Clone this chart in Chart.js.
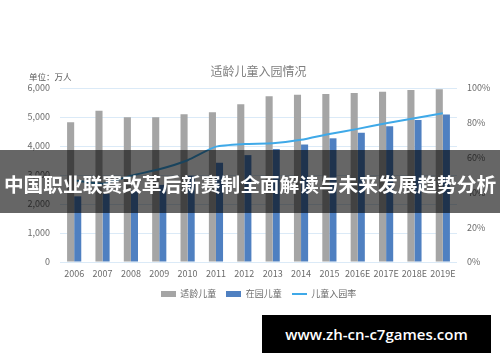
<!DOCTYPE html>
<html>
<head>
<meta charset="utf-8">
<script src="https://cdn.jsdelivr.net/npm/chart.js@4.4.0/dist/chart.umd.min.js"></script>
<style>
  html, body { margin: 0; padding: 0; background: #fff; }
  #wrap { position: relative; width: 500px; height: 362px; overflow: hidden; }
  #c { position: absolute; left: 0; top: 0; }
  #unit { position: absolute; left: 29px; top: 70px; font: 8.5px "Noto Sans CJK SC", sans-serif; color: #595959; white-space: nowrap; }
  #banner { position: absolute; left: 0; top: 150px; width: 500px; height: 63px; background: rgba(0,0,0,0.6);
            color: #fff; font: bold 19.7px "Noto Sans CJK SC", sans-serif; text-align: center; line-height: 63px; white-space: nowrap; }
  #banner span { position: relative; top: 2px; }
  #wm { position: absolute; left: 262px; top: 315px; width: 229px; height: 38px; background: #000; color: #fff;
        font: 600 15px "Open Sans", sans-serif; text-align: center; line-height: 38px; white-space: nowrap; }
</style>
</head>
<body>
<div id="wrap">
  <canvas id="c" width="500" height="362"></canvas>
  <div id="unit">单位：万人</div>
  <div id="banner"><span>中国职业联赛改革后新赛制全面解读与未来发展趋势分析</span></div>
  <div id="wm">www.zh-cn-c7games.com</div>
</div>
<script>
const categories = ["2006","2007","2008","2009","2010","2011","2012","2013","2014","2015","2016E","2017E","2018E","2019E"];
const eligibleChildren = [4817, 5218, 4989, 4990, 5093, 5162, 5438, 5713, 5770, 5793, 5828, 5873, 5931, 5954];
const enrolledChildren = [2264, 2349, 2475, 2658, 2977, 3424, 3686, 3895, 4051, 4265, 4460, 4680, 4900, 5090];
const enrollmentRate = [47.0, 45.0, 49.6, 53.3, 58.5, 66.3, 67.8, 68.2, 70.2, 73.6, 76.5, 79.7, 82.6, 85.5];
const leftTicks = [0, 1000, 2000, 3000, 4000, 5000, 6000];
const rightTicks = [0, 20, 40, 60, 80, 100];
const seriesNames = ["适龄儿童", "在园儿童", "儿童入园率"];
const chartTitle = "适龄儿童入园情况";

const GRAY = '#a5a5a5', BLUE = '#4f80c1', LINE = '#3fa9e8';
const FONT = '"Noto Sans CJK SC", "Noto Sans", sans-serif';

function swatch(w, h, color, lineH) {
  const cv = document.createElement('canvas');
  cv.width = w; cv.height = h;
  const g = cv.getContext('2d');
  g.fillStyle = color;
  if (lineH) g.fillRect(0, (h - lineH) / 2, w, lineH); else g.fillRect(0, 0, w, h);
  return cv;
}
const legendImgs = [swatch(15, 6, GRAY), swatch(15, 6, BLUE), swatch(15, 6, LINE, 2)];

new Chart(document.getElementById('c'), {
  data: {
    labels: categories,
    datasets: [
      { type: 'line', label: seriesNames[2], data: enrollmentRate, yAxisID: 'y1', borderColor: LINE, backgroundColor: LINE,
        borderWidth: 2, pointRadius: 0, tension: 0.2, order: 0 },
      { type: 'bar', label: seriesNames[0], data: eligibleChildren, yAxisID: 'y', backgroundColor: GRAY,
        categoryPercentage: 0.5, barPercentage: 1.0, order: 1 },
      { type: 'bar', label: seriesNames[1], data: enrolledChildren, yAxisID: 'y', backgroundColor: BLUE,
        categoryPercentage: 0.5, barPercentage: 1.0, order: 1 }
    ]
  },
  options: {
    responsive: false,
    animation: false,
    layout: { padding: { top: 0, left: 0, right: 0, bottom: 53.5 } },
    plugins: {
      title: { display: true, text: chartTitle, fullSize: false, color: '#7f7f7f',
               font: { family: FONT, size: 12, weight: 'normal' }, padding: { top: 64, bottom: 9.6 } },
      legend: {
        position: 'bottom', fullSize: false,
        labels: {
          usePointStyle: true, pointStyleWidth: 15, boxHeight: 9, padding: 10, color: '#6b6b6b',
          font: { family: FONT, size: 9 },
          sort: (a, b) => [1, 2, 0].indexOf(a.datasetIndex) - [1, 2, 0].indexOf(b.datasetIndex),
          generateLabels: (chart) => chart.data.datasets.map((ds, i) => ({
            text: ds.label, datasetIndex: i, pointStyle: legendImgs[[2, 0, 1][i]],
            fillStyle: ds.backgroundColor, strokeStyle: ds.backgroundColor, lineWidth: 0, hidden: false, fontColor: '#6b6b6b'
          }))
        }
      },
      tooltip: { enabled: false }
    },
    scales: {
      x: {
        grid: { display: false, drawTicks: false },
        border: { display: false },
        ticks: { color: '#6b6b6b', font: { family: FONT, size: 9 }, padding: 6, maxRotation: 0, autoSkip: false },
        afterFit: (s) => { s.height = 17.5; }
      },
      y: {
        position: 'left', min: 0, max: 6000,
        afterBuildTicks: (s) => { s.ticks = leftTicks.map(v => ({ value: v })); },
        grid: { color: '#dbeaf7', lineWidth: 1, drawTicks: false },
        border: { display: false },
        ticks: { color: '#6b6b6b', font: { family: FONT, size: 9 }, padding: 10,
                 callback: (v) => v.toLocaleString('en-US') },
        afterFit: (s) => { s.width = 60; }
      },
      y1: {
        position: 'right', min: 0, max: 100,
        afterBuildTicks: (s) => { s.ticks = rightTicks.map(v => ({ value: v })); },
        grid: { display: false, drawTicks: false },
        border: { display: false },
        ticks: { color: '#6b6b6b', font: { family: FONT, size: 9 }, padding: 10, callback: (v) => v + '%' },
        afterFit: (s) => { s.width = 43; }
      }
    }
  }
});
</script>
</body>
</html>
